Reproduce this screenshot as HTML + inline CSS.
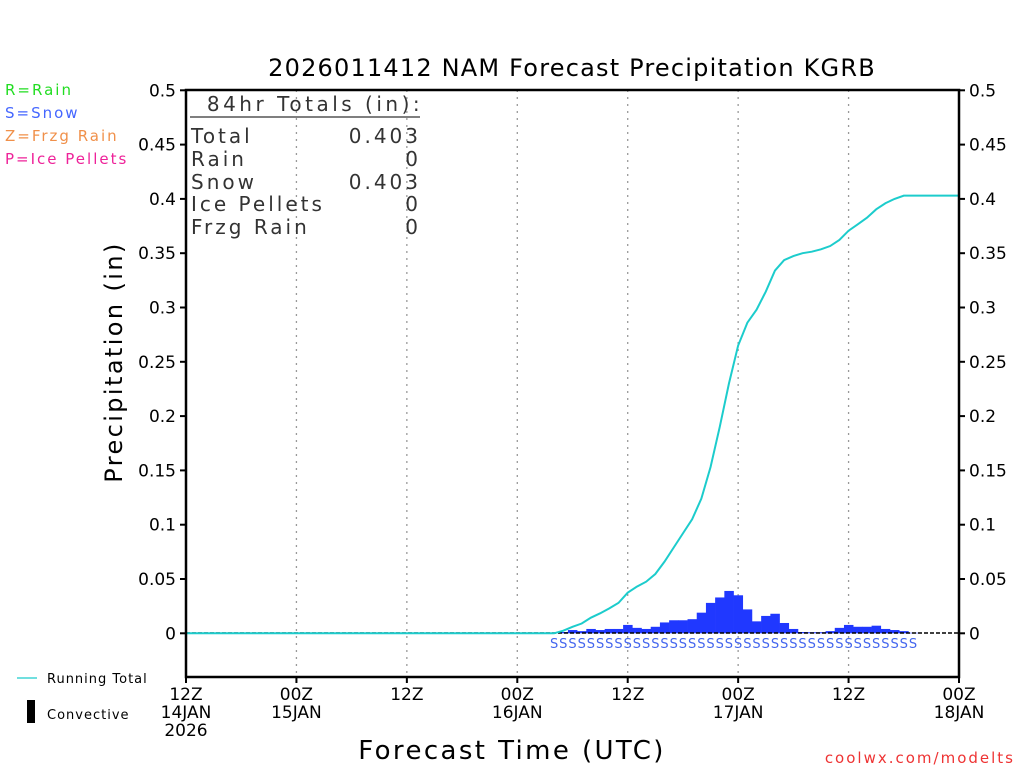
<!DOCTYPE html>
<html><head><meta charset="utf-8"><style>
body{margin:0;background:#fff;}
svg text{font-family:"DejaVu Sans","Liberation Sans",sans-serif;}
</style></head><body>
<svg id="chart" width="1024" height="768" viewBox="0 0 1024 768" xmlns="http://www.w3.org/2000/svg">
<text x="572" y="76" font-size="24" letter-spacing="1.2" text-anchor="middle" fill="#000">2026011412 NAM Forecast Precipitation KGRB</text>
<g font-size="15" letter-spacing="2">
<text x="5" y="95" fill="#22dd22">R=Rain</text>
<text x="5" y="118" fill="#4466ff">S=Snow</text>
<text x="5" y="141" fill="#f0904a">Z=Frzg Rain</text>
<text x="5" y="164" fill="#ee2299">P=Ice Pellets</text>
</g>
<g id="grid"></g>
<g id="yaxes"></g>
<g id="xaxis"></g>
<g id="bars"></g>
<g id="smarks"></g>
<line x1="186" y1="633" x2="959" y2="633" stroke="#000" stroke-width="1.5" stroke-dasharray="4,2"/>
<polyline id="total" fill="none" stroke="#1ccccc" stroke-width="2"/>
<rect x="186" y="90" width="773" height="587" fill="none" stroke="#000" stroke-width="2.5"/>
<g font-size="20" fill="#333" letter-spacing="3">
<text x="315" y="111" text-anchor="middle" letter-spacing="3.5">84hr Totals (in):</text>
<line x1="190" y1="117" x2="420" y2="117" stroke="#333" stroke-width="1.2"/>
<text x="191" y="143">Total</text><text x="421" y="143" text-anchor="end">0.403</text>
<text x="191" y="166">Rain</text><text x="421" y="166" text-anchor="end">0</text>
<text x="191" y="189">Snow</text><text x="421" y="189" text-anchor="end">0.403</text>
<text x="191" y="211">Ice Pellets</text><text x="421" y="211" text-anchor="end">0</text>
<text x="191" y="234">Frzg Rain</text><text x="421" y="234" text-anchor="end">0</text>
</g>
<text transform="translate(122,362) rotate(-90)" font-size="24" letter-spacing="2.4" text-anchor="middle">Precipitation (in)</text>
<text x="512" y="759" font-size="26" letter-spacing="2.4" text-anchor="middle">Forecast Time (UTC)</text>
<text x="1015" y="763" font-size="15" letter-spacing="2" text-anchor="end" fill="#ee3333">coolwx.com/modelts</text>
<line x1="17" y1="678" x2="37" y2="678" stroke="#1ccccc" stroke-width="1.2"/>
<text x="47" y="683" font-size="13" letter-spacing="1">Running Total</text>
<rect x="27" y="700" width="8" height="23" fill="#000"/>
<text x="47" y="719" font-size="13" letter-spacing="1">Convective</text>
</svg>
<script>
const hours=[];for(let h=0;h<=84;h++)hours.push(h);
const barHours=[41,42,43,44,45,46,47,48,49,50,51,52,53,54,55,56,57,58,59,60,61,62,63,64,65,66,67,68,69,70,71,72,73,74,75,76,77,78,79];
const barValues=[0.0012,0.003,0.002,0.004,0.003,0.004,0.004,0.0077,0.005,0.004,0.006,0.010,0.012,0.012,0.013,0.019,0.028,0.033,0.039,0.035,0.022,0.011,0.016,0.018,0.0095,0.004,0.0012,0.001,0.001,0.002,0.005,0.0077,0.006,0.006,0.007,0.004,0.003,0.002,0.0005];
const totalHours=[0,40,41,42,43,44,45,46,47,48,49,50,51,52,53,54,55,56,57,58,59,60,61,62,63,64,65,66,67,68,69,70,71,72,73,74,75,76,77,78,84];
const totalValues=[0,0,0.0024,0.006,0.009,0.0144,0.0184,0.023,0.028,0.0374,0.043,0.0475,0.0546,0.066,0.079,0.092,0.105,0.124,0.153,0.190,0.230,0.265,0.286,0.298,0.3146,0.334,0.3437,0.3474,0.350,0.3514,0.3536,0.3566,0.3622,0.3707,0.3766,0.3827,0.3904,0.396,0.400,0.403,0.403];
const snowHours=[40,41,42,43,44,45,46,47,48,49,50,51,52,53,54,55,56,57,58,59,60,61,62,63,64,65,66,67,68,69,70,71,72,73,74,75,76,77,78,79];
const yTicks=[0,0.05,0.1,0.15,0.2,0.25,0.3,0.35,0.4,0.45,0.5];
const xTickHours=[0,12,24,36,48,60,72,84];
const xTickLabels=[["12Z","14JAN","2026"],["00Z","15JAN"],["12Z"],["00Z","16JAN"],["12Z"],["00Z","17JAN"],["12Z"],["00Z","18JAN"]];
const X=h=>186+h*773/84;
const Y=v=>633.3-v*1086;
const NS="http://www.w3.org/2000/svg";
function mk(tag,attrs,parent){const e=document.createElementNS(NS,tag);for(const k in attrs)e.setAttribute(k,attrs[k]);parent.appendChild(e);return e;}
const grid=document.getElementById('grid'),ya=document.getElementById('yaxes'),xa=document.getElementById('xaxis');
xTickHours.forEach((h,i)=>{
  if(i>0&&i<xTickHours.length-1){const g=mk('line',{x1:X(h),x2:X(h),y1:90,y2:677,stroke:'#999','stroke-dasharray':'2,5','stroke-width':1.3},grid);
  
  }
  const t=mk('line',{x1:X(h),x2:X(h),y1:677,y2:683,stroke:'#000','stroke-width':2},xa);
  
  
  xTickLabels[i].forEach((s,j)=>{const tx=mk('text',{x:X(h),y:700+j*18,'font-size':17,'text-anchor':'middle'},xa);tx.textContent=s;
  
  });
});
yTicks.forEach(v=>{
  [[186,-6,'end',176],[959,6,'start',969]].forEach(([x0,d,anc,tx])=>{
    const l=mk('line',{x1:x0,x2:x0+d,y1:Y(v),y2:Y(v),stroke:'#000','stroke-width':2},ya);
    
    
    const t=mk('text',{x:tx,y:Y(v)+6,'font-size':17,'text-anchor':anc},ya);t.textContent=String(v);
    
    
  });
});
const bw=773/84;
const bars=document.getElementById('bars');
barHours.forEach((h,i)=>{
  const r=mk('rect',{x:X(h)-bw/2,y:Y(barValues[i]),width:bw+0.3,height:Y(0)-Y(barValues[i]),fill:'#2038ff'},bars);
  
  
});
const sm=document.getElementById('smarks');
snowHours.forEach(h=>{const t=mk('text',{x:X(h),y:648,'font-size':13,'text-anchor':'middle',fill:'#4466ee'},sm);t.textContent='S';

});
document.getElementById('total').setAttribute('points',totalHours.map((h,i)=>X(h)+','+Y(totalValues[i])).join(' '));
</script>
</body></html>
